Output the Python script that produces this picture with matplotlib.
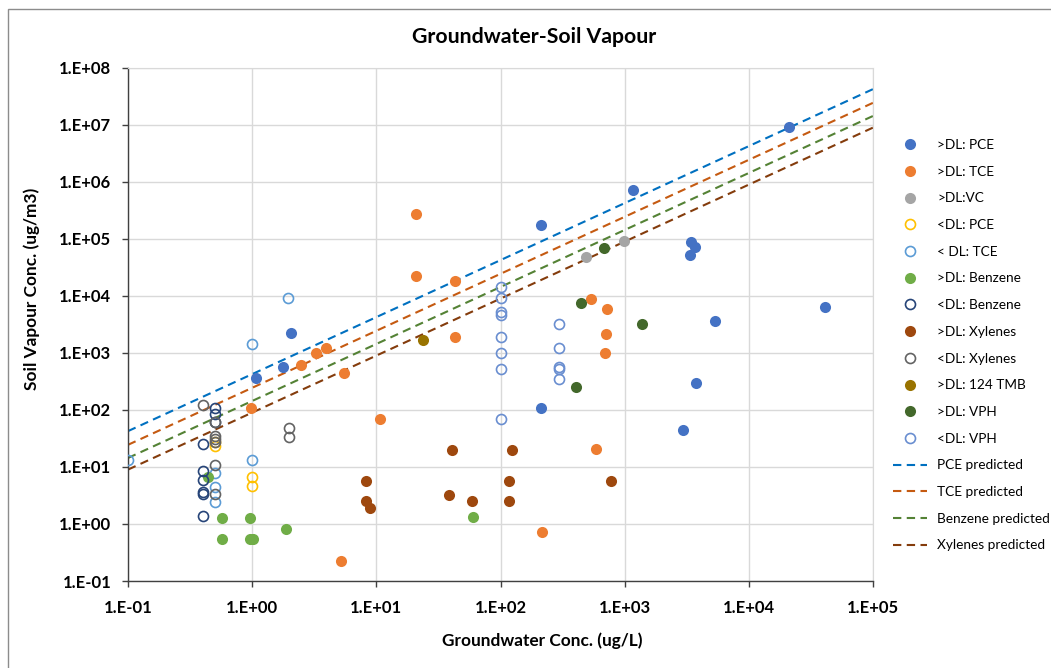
import matplotlib
matplotlib.use("Agg")
import matplotlib.pyplot as plt
from matplotlib.patches import Rectangle
import numpy as np

plt.rcParams['font.family'] = ['Lato', 'DejaVu Sans']

# ---------------- data ----------------
pce_dl_x = [1.07, 1.76, 2.05, 211, 211, 1160, 3410, 3670, 3350, 5320, 41100, 3770, 2950, 21000]
pce_dl_y = [369, 563, 2240, 178000, 110, 724000, 87000, 71600, 51800, 3690, 6460, 294, 44.7, 9.2e6]

tce_dl_x = [0.98, 2.47, 3.27, 3.93, 5.48, 20.7, 20.7, 43.1, 43.1, 10.8, 217, 5.19, 531, 722, 701, 692, 586]
tce_dl_y = [110, 617, 988, 1230, 449, 271000, 22200, 18300, 1910, 68.7, 0.72, 0.224, 8750, 5990, 2190, 988, 20.4]

vc_dl_x = [484, 986]
vc_dl_y = [47700, 91300]

pce_ndl_x = [0.5, 0.5, 1.0, 1.0]
pce_ndl_y = [23.3, 27.0, 6.8, 4.6]

tce_ndl_x = [0.1, 1.0, 1.0, 0.5, 0.5, 0.5, 1.94]
tce_ndl_y = [13.2, 1450, 13.2, 7.9, 4.5, 2.4, 9100]

benz_dl_x = [0.44, 0.575, 0.575, 0.96, 0.96, 1.02, 1.88, 60]
benz_dl_y = [6.8, 1.29, 0.55, 1.29, 0.55, 0.55, 0.82, 1.33]

benz_ndl_x = [0.4, 0.4, 0.4, 0.4, 0.4, 0.4, 0.5, 0.5, 0.5]
benz_ndl_y = [25, 8.5, 5.9, 3.7, 3.4, 1.38, 107, 85, 62]

xyl_dl_x = [8.2, 8.2, 8.87, 40.6, 38.5, 58.5, 124, 118, 118, 769]
xyl_dl_y = [5.7, 2.5, 1.88, 19.9, 3.27, 2.5, 19.9, 5.7, 2.5, 5.7]

xyl_ndl_x = [0.4, 0.5, 0.5, 0.5, 0.5, 0.5, 0.5, 1.98, 1.98]
xyl_ndl_y = [120, 62, 35, 31, 27.6, 10.8, 3.4, 48, 33]

tmb_dl_x = [23.6]
tmb_dl_y = [1690]

vph_dl_x = [676, 441, 1380, 405]
vph_dl_y = [69500, 7580, 3240, 251]

vph_ndl_x = [100, 100, 100, 100, 100, 100, 100, 100, 295, 295, 295, 295, 295]
vph_ndl_y = [14200, 9120, 5250, 4700, 1910, 988, 514, 70.8, 3240, 1240, 576, 531, 350]

# predicted lines: Csv = k * Cgw
pred_names = ['PCE predicted', 'TCE predicted', 'Benzene predicted', 'Xylenes predicted']
pred_k = [426, 245, 144, 90]
pred_range = [0.1, 1e5]

x_ticks = [1e-1, 1e0, 1e1, 1e2, 1e3, 1e4, 1e5]
x_ticklabels = ['1.E-01', '1.E+00', '1.E+01', '1.E+02', '1.E+03', '1.E+04', '1.E+05']
y_ticks = [1e-1, 1e0, 1e1, 1e2, 1e3, 1e4, 1e5, 1e6, 1e7, 1e8]
y_ticklabels = ['1.E-01', '1.E+00', '1.E+01', '1.E+02', '1.E+03', '1.E+04', '1.E+05',
                '1.E+06', '1.E+07', '1.E+08']

# ---------------- figure ----------------
W, H = 1051, 668
fig = plt.figure(figsize=(W / 100, H / 100), dpi=100)
fig.patches.append(Rectangle((8 / W, -0.01), 1.2, 1 - 9 / H + 0.01, transform=fig.transFigure,
                             fill=False, edgecolor='#8c8c8c', linewidth=1.0))

ax = fig.add_axes([128 / W, 1 - 581 / H, 745 / W, 513 / H])
ax.set_xscale('log')
ax.set_yscale('log')
ax.set_xlim(1e-1, 1e5)
ax.set_ylim(1e-1, 1e8)

ms = 8
handles = []

def filled(x, y, color, label):
    h, = ax.plot(x, y, 'o', ms=ms, color=color, mec=color, mew=0, label=label, zorder=3)
    handles.append(h)

def hollow(x, y, color, label):
    h, = ax.plot(x, y, 'o', ms=ms - 0.8, mfc='none', mec=color, mew=1.2, label=label, zorder=3)
    handles.append(h)

filled(pce_dl_x, pce_dl_y, '#4472C4', '>DL: PCE')
filled(tce_dl_x, tce_dl_y, '#ED7D31', '>DL: TCE')
filled(vc_dl_x, vc_dl_y, '#A5A5A5', '>DL:VC')
hollow(pce_ndl_x, pce_ndl_y, '#FFC000', '<DL: PCE')
hollow(tce_ndl_x, tce_ndl_y, '#5B9BD5', '< DL: TCE')
filled(benz_dl_x, benz_dl_y, '#70AD47', '>DL: Benzene')
hollow(benz_ndl_x, benz_ndl_y, '#264478', '<DL: Benzene')
filled(xyl_dl_x, xyl_dl_y, '#9E480E', '>DL: Xylenes')
hollow(xyl_ndl_x, xyl_ndl_y, '#636363', '<DL: Xylenes')
filled(tmb_dl_x, tmb_dl_y, '#997300', '>DL: 124 TMB')
filled(vph_dl_x, vph_dl_y, '#43682B', '>DL: VPH')
hollow(vph_ndl_x, vph_ndl_y, '#698ED0', '<DL: VPH')

line_colors = ['#0070C0', '#C55A11', '#548235', '#843C0C']
xr = np.array(pred_range)
for name, k, c in zip(pred_names, pred_k, line_colors):
    h, = ax.plot(xr, k * xr, linestyle=(0, (4, 2.6)), color=c, linewidth=1.5, label=name, zorder=2)
    handles.append(h)

# grid & spines
ax.set_xticks(x_ticks)
ax.set_xticklabels(x_ticklabels)
ax.set_yticks(y_ticks)
ax.set_yticklabels(y_ticklabels)
ax.xaxis.set_minor_locator(matplotlib.ticker.NullLocator())
ax.yaxis.set_minor_locator(matplotlib.ticker.NullLocator())
ax.grid(True, which='major', color='#D9D9D9', linewidth=1.0, zorder=0)
ax.set_axisbelow(True)
for s in ['top', 'right']:
    ax.spines[s].set_color('#D9D9D9')
for s in ['left', 'bottom']:
    ax.spines[s].set_color('#404040')
    ax.spines[s].set_linewidth(1.0)
ax.tick_params(axis='both', which='major', length=4, width=1.0, color='#404040',
               labelsize=12)
ax.tick_params(axis='y', pad=8)
ax.tick_params(axis='x', pad=10)
for lab in ax.get_xticklabels() + ax.get_yticklabels():
    lab.set_fontweight('bold')

fig.text(534 / W, 1 - 37 / H, 'Groundwater-Soil Vapour', fontsize=15.3, fontweight='bold',
         ha='center', va='center')
fig.text(542 / W, 1 - 641 / H, 'Groundwater Conc. (ug/L)', fontsize=12.4, fontweight='bold',
         ha='center', va='center')
fig.text(32 / W, 1 - 289 / H, 'Soil Vapour Conc. (ug/m3)', fontsize=12.4, fontweight='bold',
         ha='center', va='center', rotation=90)

fig.legend(handles=handles, loc='upper left', bbox_to_anchor=(893 / W, 1 - 139 / H),
           frameon=False, fontsize=9.8, handlelength=2.5, handletextpad=0.75,
           labelspacing=1.08, borderaxespad=0, borderpad=0)

fig.savefig('out.png', dpi=100)
